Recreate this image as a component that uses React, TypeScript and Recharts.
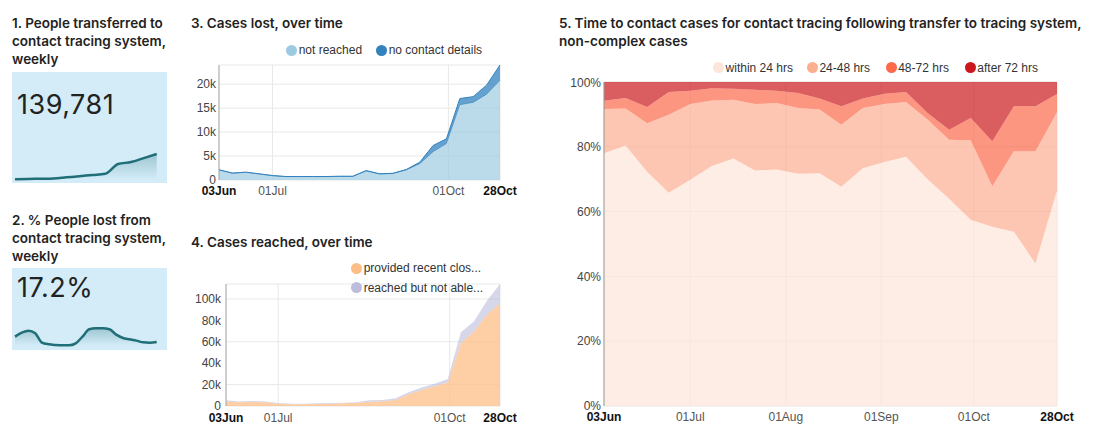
import React from 'react';
import { AreaChart, Area, XAxis, YAxis, CartesianGrid } from 'recharts';

const TITLE_FONT = 'Inter, "Noto Sans", sans-serif';
const AXIS_FONT = '"Liberation Sans", Arial, sans-serif';

// weekly dates, 03 Jun to 28 Oct
const weeks = [
  '03Jun', '10Jun', '17Jun', '24Jun', '01Jul', '08Jul', '15Jul', '22Jul', '29Jul', '05Aug', '12Aug',
  '19Aug', '26Aug', '02Sep', '09Sep', '16Sep', '23Sep', '30Sep', '07Oct', '14Oct', '21Oct', '28Oct',
];
const tickDays = [0, 28, 59, 90, 120, 147];
const tickNames = ['03Jun', '01Jul', '01Aug', '01Sep', '01Oct', '28Oct'];
const smallTickDays = [0, 28, 120, 147];

// 3. cases lost
const notReached = [2100, 1400, 1600, 1250, 900, 700, 700, 700, 700, 750, 750, 1900, 1250, 1350, 2100, 3400, 5900, 7600, 15700, 16200, 17900, 20800];
const noContact = [40, 40, 40, 40, 30, 30, 30, 30, 30, 30, 30, 60, 40, 50, 100, 300, 1300, 1000, 1300, 1200, 1900, 3200];

// 4. cases reached
const provided = [4000, 3400, 3700, 3400, 2200, 1600, 1600, 1900, 2200, 2500, 2800, 4000, 4400, 5600, 11000, 15000, 18400, 21900, 58700, 69700, 85300, 96000];
const notAble = [1300, 700, 1000, 700, 600, 600, 600, 600, 600, 600, 600, 1300, 1200, 1600, 1800, 2200, 2500, 3400, 10300, 9300, 13100, 18000];

// 5. time to contact (%)
const within24 = [78.0, 80.4, 72.3, 65.8, 69.8, 74.1, 76.4, 72.7, 73.0, 71.7, 71.8, 67.7, 73.4, 75.3, 76.9, 70.0, 64.0, 57.5, 55.3, 53.8, 44.0, 66.5];
const h24to48 = [13.7, 11.4, 15.0, 24.1, 23.4, 20.2, 18.1, 20.5, 20.5, 20.3, 19.7, 19.1, 18.6, 17.9, 16.9, 18.4, 18.2, 24.5, 12.5, 24.8, 34.6, 24.2];
const h48to72 = [2.5, 3.3, 5.0, 7.0, 4.1, 3.8, 3.4, 4.4, 3.8, 4.6, 3.4, 5.7, 2.9, 3.2, 3.1, 2.0, 3.1, 6.9, 13.9, 13.9, 13.9, 5.6];
const after72 = [5.8, 4.9, 7.7, 3.1, 2.7, 1.9, 2.1, 2.4, 2.7, 3.4, 5.1, 7.5, 5.1, 3.6, 3.1, 9.6, 14.7, 11.1, 18.3, 7.5, 7.5, 3.7];

// sparklines
const transferredWeekly = [4300, 6200, 7000, 8600, 14800, 20800, 27600, 33700, 86200, 96500, 117800, 139781];
const lostPctWeekly = [18.8, 20.0, 20.6, 19.8, 17.0, 16.5, 16.3, 16.2, 16.2, 16.8, 18.8, 21.0, 21.3, 21.3, 21.0, 19.4, 18.4, 18.0, 17.6, 17.1, 17.0, 17.2];

const lostData = weeks.map((w, i) => ({ day: i * 7, week: w, notReached: notReached[i], noContact: noContact[i] }));
const reachedData = weeks.map((w, i) => ({ day: i * 7, week: w, provided: provided[i], notAble: notAble[i] }));
const timeData = weeks.map((w, i) => ({
  day: i * 7, week: w, within24: within24[i], h24to48: h24to48[i], h48to72: h48to72[i], after72: after72[i],
}));
const spark1 = transferredWeekly.map((v, i) => ({ i, v }));
const spark2 = lostPctWeekly.map((v, i) => ({ i, v }));

function DateTick(props: any) {
  const { x, y, payload, dy } = props;
  const idx = tickDays.indexOf(payload.value);
  const edge = idx === 0 || idx === tickDays.length - 1;
  return (
    <text
      x={x}
      y={y}
      dy={dy}
      textAnchor="middle"
      fontFamily={AXIS_FONT}
      fontSize={12}
      fontWeight={edge ? 700 : 400}
      fill={edge ? '#111' : '#555'}
    >
      {tickNames[idx]}
    </text>
  );
}

function Title({ lines, left, top }: { lines: string[]; left: number; top: number }) {
  return (
    <div
      style={{
        position: 'absolute', left, top, fontFamily: TITLE_FONT, fontSize: 13.5, fontWeight: 600,
        lineHeight: '18.3px', color: '#222', whiteSpace: 'nowrap',
      }}
    >
      {lines.map((l) => <div key={l}>{l}</div>)}
    </div>
  );
}

function BigNumber({ text, top }: { text: string; top: number }) {
  return (
    <div
      style={{
        position: 'absolute', left: 17, top, fontFamily: TITLE_FONT, fontSize: 27, lineHeight: '27px',
        letterSpacing: 0.5, color: '#222',
      }}
    >
      {text}
    </div>
  );
}

function LegendItem({ cx, cy, color, label }: { cx: number; cy: number; color: string; label: string }) {
  return (
    <div
      style={{
        position: 'absolute', left: cx - 5.5, top: cy - 7, height: 14, display: 'flex', alignItems: 'center',
        fontFamily: AXIS_FONT, fontSize: 12, color: '#333', whiteSpace: 'nowrap',
      }}
    >
      <span style={{ width: 11, height: 11, borderRadius: '50%', background: color, marginRight: 1.5 }} />
      {label}
    </div>
  );
}

function Sparkline({ data, id, left, top, height, margin }: any) {
  return (
    <div style={{ position: 'absolute', left, top }}>
      <AreaChart width={155} height={height} data={data} margin={margin}>
        <defs>
          <linearGradient id={id} x1="0" y1="0" x2="0" y2="1">
            <stop offset="0%" stopColor="#1f6e78" stopOpacity={0.3} />
            <stop offset="100%" stopColor="#1f6e78" stopOpacity={0} />
          </linearGradient>
        </defs>
        <XAxis dataKey="i" hide />
        <YAxis hide domain={['dataMin', 'dataMax']} />
        <Area
          type="monotone"
          dataKey="v"
          stroke="#1f6e78"
          strokeWidth={2.5}
          fill={`url(#${id})`}
          fillOpacity={1}
          baseValue="dataMin"
          isAnimationActive={false}
        />
      </AreaChart>
    </div>
  );
}

const kFormat = (v: number) => (v === 0 ? '0' : `${v / 1000}k`);

export default function App() {
  return (
    <div style={{ position: 'absolute', left: 0, top: 0, width: 1100, height: 448, background: '#fff', overflow: 'hidden' }}>
      {/* 1 */}
      <Title lines={['1. People transferred to', 'contact tracing system,', 'weekly']} left={12} top={13.6} />
      <div style={{ position: 'absolute', left: 12, top: 72, width: 155, height: 111, background: '#d3ecf8' }} />
      <BigNumber text="139,781" top={91} />
      <Sparkline data={spark1} id="spark1" left={12} top={150} height={33} margin={{ top: 4, right: 10.3, bottom: 3.7, left: 3 }} />

      {/* 2 */}
      <Title lines={['2. % People lost from', 'contact tracing system,', 'weekly']} left={12} top={210.9} />
      <div style={{ position: 'absolute', left: 12, top: 268, width: 155, height: 82, background: '#d3ecf8' }} />
      <BigNumber text="17.2%" top={273.7} />
      <Sparkline data={spark2} id="spark2" left={12} top={322} height={28} margin={{ top: 6.3, right: 10.3, bottom: 4.7, left: 3 }} />

      {/* 3 */}
      <Title lines={['3. Cases lost, over time']} left={191} top={13.6} />
      <LegendItem cx={291.7} cy={50} color="#9ecae1" label="not reached" />
      <LegendItem cx={381.7} cy={50} color="#3182bd" label="no contact details" />
      <div style={{ position: 'absolute', left: 180, top: 40 }}>
        <AreaChart width={340} height={170} data={lostData} margin={{ top: 25, right: 20, bottom: 0, left: 0 }}>
          <CartesianGrid stroke="#e8e8e8" />
          <XAxis
            dataKey="day" type="number" domain={[0, 147]} ticks={smallTickDays} interval={0}
            axisLine={false} tickLine={false} tickSize={0} tickMargin={0} height={30}
            tick={(p: any) => <DateTick {...p} dy={15} />}
          />
          <YAxis
            domain={[0, 24000]} ticks={[0, 5000, 10000, 15000, 20000]} width={39}
            axisLine={{ stroke: '#aaa' }} tickLine={false} tickSize={0} tickMargin={3}
            tick={{ fill: '#444', fontSize: 12, fontFamily: AXIS_FONT }} tickFormatter={kFormat}
          />
          <Area type="linear" dataKey="notReached" stackId="a" stroke="#7fb3d8" strokeWidth={1} fill="#9ecae1" fillOpacity={0.7} isAnimationActive={false} />
          <Area type="linear" dataKey="noContact" stackId="a" stroke="#3182bd" strokeWidth={1} fill="#3182bd" fillOpacity={0.75} isAnimationActive={false} />
        </AreaChart>
      </div>

      {/* 4 */}
      <Title lines={['4. Cases reached, over time']} left={191} top={232.6} />
      <div style={{ position: 'absolute', left: 180, top: 260 }}>
        <AreaChart width={340} height={180} data={reachedData} margin={{ top: 24, right: 20, bottom: 0, left: 0 }}>
          <CartesianGrid stroke="#e8e8e8" />
          <XAxis
            dataKey="day" type="number" domain={[0, 147]} ticks={smallTickDays} interval={0}
            axisLine={false} tickLine={false} tickSize={0} tickMargin={0} height={34}
            tick={(p: any) => <DateTick {...p} dy={16} />}
          />
          <YAxis
            domain={[0, 114000]} ticks={[0, 20000, 40000, 60000, 80000, 100000]} width={46}
            axisLine={{ stroke: '#aaa' }} tickLine={false} tickSize={0} tickMargin={5}
            tick={{ fill: '#444', fontSize: 12, fontFamily: AXIS_FONT }} tickFormatter={kFormat}
          />
          <Area type="linear" dataKey="provided" stackId="a" stroke="none" fill="#fdbe85" fillOpacity={0.75} isAnimationActive={false} />
          <Area type="linear" dataKey="notAble" stackId="a" stroke="none" fill="#bcbddc" fillOpacity={0.6} isAnimationActive={false} />
        </AreaChart>
      </div>
      <LegendItem cx={356.7} cy={268.3} color="#fdbe85" label="provided recent clos..." />
      <LegendItem cx={356.7} cy={287.7} color="#bcbddc" label="reached but not able..." />

      {/* 5 */}
      <Title
        lines={['5. Time to contact cases for contact tracing following transfer to tracing system,', 'non-complex cases']}
        left={559}
        top={13.6}
      />
      <LegendItem cx={718.6} cy={67.7} color="#fee5d9" label="within 24 hrs" />
      <LegendItem cx={812.4} cy={67.7} color="#fcae91" label="24-48 hrs" />
      <LegendItem cx={891.2} cy={67.7} color="#fb6a4a" label="48-72 hrs" />
      <LegendItem cx={970.3} cy={67.7} color="#cb181d" label="after 72 hrs" />
      <div style={{ position: 'absolute', left: 560, top: 75 }}>
        <AreaChart width={520} height={365} data={timeData} margin={{ top: 7, right: 23, bottom: 0, left: 0 }}>
          <CartesianGrid stroke="#e8e8e8" />
          <XAxis
            dataKey="day" type="number" domain={[0, 147]} ticks={tickDays} interval={0}
            axisLine={false} tickLine={false} tickSize={0} tickMargin={0} height={34}
            tick={(p: any) => <DateTick {...p} dy={15} />}
          />
          <YAxis
            domain={[0, 100]} ticks={[0, 20, 40, 60, 80, 100]} width={44}
            axisLine={{ stroke: '#999' }} tickLine={false} tickSize={0} tickMargin={3}
            tick={{ fill: '#444', fontSize: 12, fontFamily: AXIS_FONT }} tickFormatter={(v: number) => `${v}%`}
          />
          <Area type="linear" dataKey="within24" stackId="t" stroke="none" fill="#fee5d9" fillOpacity={0.7} isAnimationActive={false} />
          <Area type="linear" dataKey="h24to48" stackId="t" stroke="none" fill="#fcae91" fillOpacity={0.7} isAnimationActive={false} />
          <Area type="linear" dataKey="h48to72" stackId="t" stroke="none" fill="#fb6a4a" fillOpacity={0.7} isAnimationActive={false} />
          <Area type="linear" dataKey="after72" stackId="t" stroke="none" fill="#cb181d" fillOpacity={0.7} isAnimationActive={false} />
        </AreaChart>
      </div>
    </div>
  );
}
